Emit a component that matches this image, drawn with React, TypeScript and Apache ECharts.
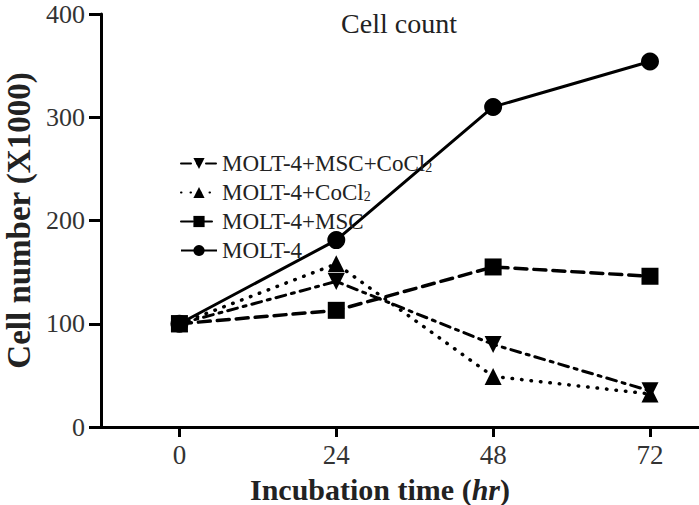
import React, { useEffect, useRef } from "react";
import * as echarts from "echarts";

const hours = [0, 24, 48, 72];
const molt4 = [100, 181, 310, 354];
const moltMsc = [100, 113, 155, 146];
const moltCocl = [100, 158, 49, 32];
const moltMscCocl = [100, 141, 80, 35];
const yTicks = [0, 100, 200, 300, 400];

const FONT = "'Liberation Serif', 'Times New Roman', serif";

export default function App() {
  const ref = useRef<HTMLDivElement>(null);
  useEffect(() => {
    if (!ref.current) return;
    const chart = echarts.init(ref.current, null, { renderer: "svg" });
    const pts = (vals: number[]) => hours.map((h, i) => [h, vals[i]]);
    const common = {
      type: "line",
      symbolSize: 17,
      itemStyle: { color: "#000" },
      z: 3,
    };
    chart.setOption({
      animation: false,
      backgroundColor: "#fff",
      title: {
        text: "Cell count",
        left: 394,
        top: 4,
        textAlign: "center",
        textStyle: { fontFamily: FONT, fontSize: 28, fontWeight: "normal", color: "#222" },
      },
      legend: {
        orient: "vertical",
        left: 175,
        top: 147,
        itemWidth: 36,
        itemHeight: 14,
        itemGap: 6,
        selectedMode: false,
        data: ["MOLT-4+MSC+CoCl2", "MOLT-4+CoCl2", "MOLT-4+MSC", "MOLT-4"],
        formatter: (name: string) => {
          if (name.endsWith("CoCl2")) return "{a|" + name.slice(0, -1) + "}{s|2}";
          return "{a|" + name + "}";
        },
        textStyle: {
          fontFamily: FONT,
          fontSize: 23,
          lineHeight: 22,
          color: "#222",
          rich: {
            a: { fontFamily: FONT, fontSize: 23, lineHeight: 22, color: "#222" },
            s: { fontFamily: FONT, fontSize: 14, lineHeight: 14, color: "#222", padding: [8, 0, 0, 0] },
          },
        },
      },
      grid: { left: 101, right: 0, top: 14, bottom: 78, containLabel: false, outerBoundsMode: "none" },
      xAxis: {
        type: "value",
        min: -12,
        max: 79.5,
        name: "{b|Incubation time (}{i|hr}{b|)}",
        nameLocation: "middle",
        nameGap: 47,
        nameTextStyle: {
          padding: [0, 40, 0, 0],
          rich: {
            b: { fontFamily: FONT, fontSize: 30, fontWeight: "bold", color: "#222" },
            i: { fontFamily: FONT, fontSize: 30, fontWeight: "bold", fontStyle: "italic", color: "#222" },
          },
        },
        splitLine: { show: false },
        axisLine: { lineStyle: { color: "#000", width: 3 } },
        axisTick: { customValues: hours, length: 10, lineStyle: { color: "#000", width: 3 } },
        axisLabel: {
          customValues: hours,
          margin: 14,
          fontFamily: FONT,
          fontSize: 27,
          color: "#333",
        },
      },
      yAxis: {
        type: "value",
        min: 0,
        max: 400,
        interval: 100,
        name: "Cell number (X1000)",
        nameLocation: "middle",
        nameGap: 48,
        nameTextStyle: { fontFamily: FONT, fontSize: 33, fontWeight: "bold", color: "#222" },
        splitLine: { show: false },
        axisLine: { show: true, onZero: false, lineStyle: { color: "#000", width: 3 } },
        axisTick: { show: true, length: 12, lineStyle: { color: "#000", width: 3 } },
        axisLabel: {
          customValues: yTicks,
          margin: 16,
          fontFamily: FONT,
          fontSize: 26,
          lineHeight: 20,
          color: "#333",
        },
      },
      series: [
        {
          ...common,
          name: "MOLT-4+MSC+CoCl2",
          symbol: "triangle",
          symbolRotate: 180,
          data: pts(moltMscCocl),
          lineStyle: { color: "#000", width: 3, type: [10, 6, 3, 6], cap: "round" },
        },
        {
          ...common,
          name: "MOLT-4+CoCl2",
          symbol: "triangle",
          data: pts(moltCocl),
          lineStyle: { color: "#000", width: 3.5, type: [0.5, 9], cap: "round" },
        },
        {
          ...common,
          name: "MOLT-4+MSC",
          symbol: "rect",
          data: pts(moltMsc),
          lineStyle: { color: "#000", width: 3.5, type: [12, 7], cap: "round" },
        },
        {
          ...common,
          name: "MOLT-4",
          symbol: "circle",
          symbolSize: 18,
          data: pts(molt4),
          lineStyle: { color: "#000", width: 3, type: "solid" },
        },
      ],
    });
    return () => chart.dispose();
  }, []);
  return <div ref={ref} style={{ width: 699, height: 505, position: "absolute", left: 0, top: 0 }} />;
}
